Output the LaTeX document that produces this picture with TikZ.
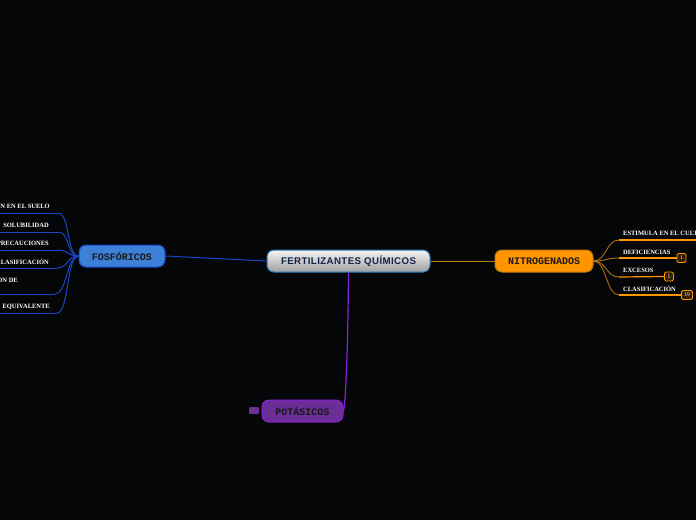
\documentclass[tikz,border=0pt]{standalone}
\usepackage{fontspec}
\usepackage{tikz}
\usetikzlibrary{positioning,calc}

\newfontfamily\rootfont[LetterSpace=4]{Liberation Sans}
\newfontfamily\branchfont{Liberation Mono}
\newfontfamily\leaffont{Liberation Serif}

\definecolor{bgdark}{HTML}{050608}
\definecolor{rootline}{HTML}{2A7AB8}
\definecolor{roottext}{HTML}{15234A}
\definecolor{fosfill}{HTML}{3D80D8}
\definecolor{fosline}{HTML}{1845C8}
\definecolor{nitfill}{HTML}{FF9500}
\definecolor{nitline}{HTML}{C07810}
\definecolor{potfill}{HTML}{6B2D96}
\definecolor{potline}{HTML}{8A22D8}

\begin{document}
\begin{tikzpicture}[
  x=1pt, y=-1pt,
  root/.style={rectangle, draw=rootline, line width=1pt, rounded corners=7pt,
    top color=white!92!gray, bottom color=gray!75, minimum width=163pt, minimum height=22pt,
    inner sep=0pt, font=\rootfont\bfseries\fontsize{9.7}{11}\selectfont, text=roottext},
  branch/.style={rectangle, line width=1pt, rounded corners=7pt, minimum height=22pt,
    inner sep=0pt, font=\branchfont\bfseries\fontsize{10}{12}\selectfont, text=black!90},
  leaf/.style={inner sep=0pt, text=white, font=\leaffont\bfseries\fontsize{6.5}{7}\selectfont},
  badge/.style={rectangle, draw=nitfill, fill=black!80!nitfill, line width=0.8pt, rounded corners=1.5pt,
    minimum width=9pt, minimum height=9pt, inner sep=0pt, text=white,
    font=\leaffont\fontsize{5.5}{5.5}\selectfont},
  fosedge/.style={draw=fosline, line width=1pt},
  nitedge/.style={draw=nitline, line width=0.8pt},
  potedge/.style={draw=potline, line width=1.2pt}
]
\fill[bgdark] (0,0) rectangle (696,520);
\useasboundingbox (0,0) rectangle (696,520);
\clip (0,0) rectangle (696,520);

\coordinate (lft) at (-2,0);
\coordinate (rgt) at (698,0);

% main topic and branches
\node[root] (fert) at (348.5,261) {FERTILIZANTES QUÍMICOS};
\node[branch, draw=fosline, fill=fosfill, minimum width=86pt] (fos) at (122,256) {FOSFÓRICOS};
\node[branch, draw=nitline, fill=nitfill, minimum width=98pt] (nit) at (544,261) {NITROGENADOS};
\node[branch, draw=potline, fill=potfill, minimum width=81pt] (pot) at (302.5,411) {POTÁSICOS};
\node[rectangle, fill=potfill, rounded corners=1pt, minimum width=10pt, minimum height=7pt,
  inner sep=0pt, text=black!55, font=\leaffont\fontsize{4.5}{4.5}\selectfont] (potnum) at (254,410.5) {11};

\draw[fosedge] (fert.west) -- (fos.east);
\draw[nitedge] (fert.east) -- (nit.west);
\draw[potedge] (fert.south) .. controls (348,340) and (346,400) .. (pot.east);

% fosforicos
\coordinate (f1) at (58,213);
\coordinate (f2) at (58,232);
\coordinate (f3) at (57,250);
\coordinate (f4) at (57,268);
\coordinate (f5) at (55,294);
\coordinate (f6) at (57,313);
\node[leaf, anchor=base east] (ft1) at (50,208) {N EN EL SUELO};
\node[leaf, anchor=base east] (ft2) at (49,227) {SOLUBILIDAD};
\node[leaf, anchor=base east] (ft3) at (49,245) {PRECAUCIONES};
\node[leaf, anchor=base east] (ft4) at (49,264) {CLASIFICACIÓN};
\node[leaf, anchor=base east] (ft5) at (18,282) {ON DE};
\node[leaf, anchor=base east] (ft6) at (50,308) {EQUIVALENTE};
\foreach \i in {1,...,6}{
  \draw[fosedge] (fos.west) .. controls ($(fos.west)+(-12,0)$) and ($(f\i)+(12,0)$) .. (f\i);
  \draw[fosedge] (f\i) -- (f\i -| lft);
}

% nitrogenados
\coordinate (n1) at (619,240);
\coordinate (n2) at (619,258);
\coordinate (n3) at (619,277);
\coordinate (n4) at (619,295);
\node[leaf, anchor=base west] (nt1) at (623,235) {ESTIMULA EN EL CULT};
\node[leaf, anchor=base west] (nt2) at (623,254) {DEFICIENCIAS};
\node[leaf, anchor=base west] (nt3) at (623,272) {EXCESOS};
\node[leaf, anchor=base west] (nt4) at (623,291) {CLASIFICACIÓN};
\node[badge] (nb2) at (681.5,258) {1};
\node[badge] (nb3) at (669,276.5) {1};
\node[badge, minimum width=11pt] (nb4) at (687,295) {19};
\foreach \i in {1,...,4}{
  \draw[nitedge] (nit.east) .. controls ($(nit.east)+(13,0)$) and ($(n\i)+(-13,0)$) .. (n\i);
}
\draw[nitedge, draw=nitfill, line width=1.2pt] (n1) -- (n1 -| rgt);
\draw[nitedge, draw=nitfill, line width=1.2pt] (n2) -- (nb2.west);
\draw[nitedge, draw=nitfill, line width=1.2pt] (n3) -- (nb3.west);
\draw[nitedge, draw=nitfill, line width=1.2pt] (n4) -- (nb4.west);
\end{tikzpicture}
\end{document}
